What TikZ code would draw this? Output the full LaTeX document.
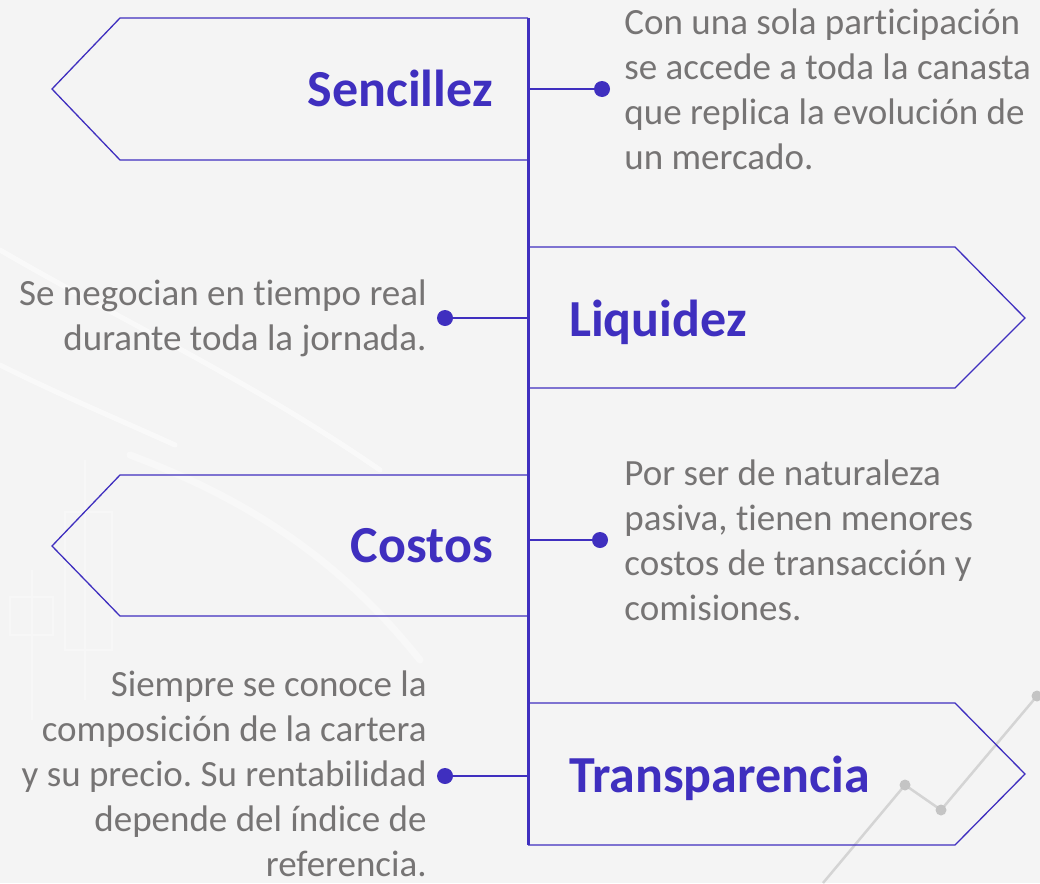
\documentclass[tikz,border=0pt]{standalone}
\usepackage{fontspec}
\setmainfont[Ligatures=NoCommon]{Carlito}
\frenchspacing
\usetikzlibrary{positioning,calc}
\definecolor{etfblue}{RGB}{63,47,191}
\definecolor{descgray}{RGB}{118,116,116}
\definecolor{bggray}{RGB}{244,244,244}
\tikzset{
	tag/.style={
		draw=etfblue, line width=1.3pt, line join=miter
	},
	%
	spine/.style={
		draw=etfblue, line width=3pt
	},
	%
	link/.style={
		draw=etfblue, line width=2.5pt
	},
	%
	dot/.style={
		circle, inner sep=0pt, minimum size=16pt, fill=etfblue
	},
	%
	title/.style={
		text=etfblue, inner sep=0pt, font=\fontsize{52}{62}\selectfont\bfseries
	},
	%
	desc/.style={
		text=descgray, inner sep=0pt, font=\fontsize{37}{45}\selectfont
	},
	%
	deco/.style={
		draw=white, line width=5pt, opacity=0.5, line cap=round
	},
	%
	chart/.style={
		draw=black!17, line width=2.5pt
	}
}

\begin{document}
\begin{tikzpicture}[x=1pt,y=-1pt]
\fill[bggray] (0,0) rectangle (1040,883);
\useasboundingbox (0,0) rectangle (1040,883);

%background
\draw[deco] (0,250) .. controls (120,320) and (250,380) .. (380,470);
\draw[deco] (0,365) .. controls (60,395) and (120,420) .. (175,445);
\draw[deco, line width=7pt, opacity=0.4] (130,455) .. controls (250,500) and (340,560) .. (420,660);
\draw[deco, line width=2pt, line cap=butt, opacity=0.35] (32,570) -- (32,720) (10,597) rectangle (53,635);
\draw[deco, line width=2pt, line cap=butt, opacity=0.35] (85,460) -- (85,700) (65,512) rectangle (112,650);
\draw[chart] (823,883) -- (905,785) -- (941,810) -- (1037,696);
\foreach \px/\py in {905/785, 941/810, 1037/696}
	\fill[black!23] (\px,\py) circle (5.5);

%tags
\draw[tag] (528,18) -- (120,18) -- (52,89) -- (120,160) -- (528,160);
\draw[tag] (528,247) -- (955,247) -- (1025,318) -- (955,388) -- (528,388);
\draw[tag] (528,475) -- (120,475) -- (52,546) -- (120,616) -- (528,616);
\draw[tag] (528,703) -- (955,703) -- (1025,774) -- (955,845) -- (528,845);

\node (sencillez) [title, anchor=base east] at (493,106) {Sencillez};
\node (liquidez) [title, anchor=base west] at (569,336) {Liquidez};
\node (costos) [title, anchor=base east] at (493,562) {Costos};
\node (transp) [title, anchor=base west] at (569,792) {Transparencia};

%spine
\coordinate (top) at (528,18);
\coordinate (bottom) at (528,845);
\draw[spine] (top) -- (bottom);

\coordinate (jS) at (528,89);
\coordinate (jL) at (528,318);
\coordinate (jC) at (528,540);
\coordinate (jT) at (528,776);

\node (dotS) [dot] at (602,89) {};
\node (dotL) [dot] at (445,318) {};
\node (dotC) [dot] at (600,540) {};
\node (dotT) [dot] at (445,776) {};

\draw[link] (jS) -- (dotS.center);
\draw[link] (jL) -- (dotL.center);
\draw[link] (jC) -- (dotC.center);
\draw[link] (jT) -- (dotT.center);

%texts
\node (txtS) [desc, align=left, right=14pt of dotS] {Con una sola participación\\se accede a toda la canasta\\que replica la evolución de\\un mercado.};
\node (txtL) [desc, align=right, left=10pt of dotL] {Se negocian en tiempo real\\durante toda la jornada.};
\node (txtC) [desc, align=left, right=16pt of dotC] {Por ser de naturaleza\\pasiva, tienen menores\\costos de transacción y\\comisiones.};
\node (txtT) [desc, align=right, left=10pt of dotT, yshift=2pt] {Siempre se conoce la\\composición de la cartera\\y su precio. Su rentabilidad\\depende del índice de\\referencia.};
\end{tikzpicture}
\end{document}
